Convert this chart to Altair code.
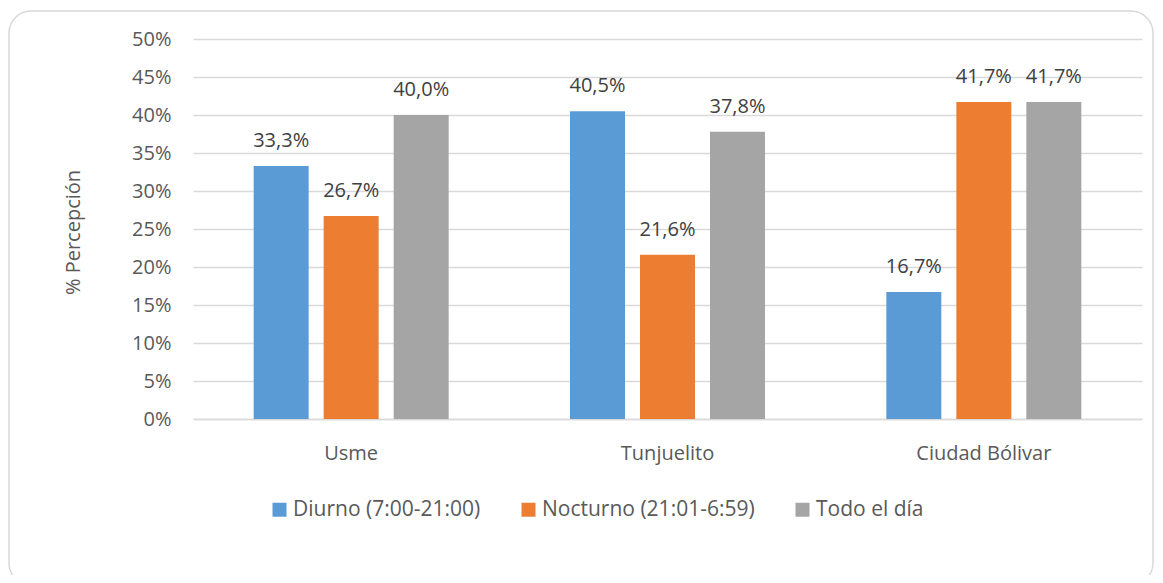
import altair as alt
import pandas as pd

categories = ["Usme", "Tunjuelito", "Ciudad Bólivar"]
series = ["Diurno (7:00-21:00)", "Nocturno (21:01-6:59)", "Todo el día"]
diurno = [33.3, 40.5, 16.7]
nocturno = [26.7, 21.6, 41.7]
todo = [40.0, 37.8, 41.7]
colors = ["#5B9BD5", "#ED7D31", "#A5A5A5"]
ticks = [0, 5, 10, 15, 20, 25, 30, 35, 40, 45, 50]

rows = []
for i, c in enumerate(categories):
    for s, vals in zip(series, [diurno, nocturno, todo]):
        rows.append({"cat": c, "serie": s, "v": vals[i]})
df = pd.DataFrame(rows)

FONT = "Open Sans"
FS = 20
pi = 1 - 195 / (949 / 3)

yaxis = alt.Axis(values=ticks, labelExpr="datum.value + '%'",
                 ticks=False, domain=False, gridColor="#d9d9d9", gridWidth=1.3,
                 labelOverlap=False, labelPadding=22, labelFontSize=FS, labelColor="#595959",
                 labelFont=FONT, titleFont=FONT, titleFontSize=FS, titleColor="#595959",
                 titleFontWeight="normal", titleX=-120, titleY=193, titleAngle=-90,
                 titleAlign="center", titleBaseline="middle")
yenc = alt.Y("v:Q", scale=alt.Scale(domain=[0, 50]), title="% Percepción", axis=yaxis)

base = alt.Chart(df).encode(
    x=alt.X("cat:N", sort=categories, title=None,
            scale=alt.Scale(paddingInner=pi, paddingOuter=pi / 2),
            axis=alt.Axis(labelAngle=0, ticks=False, domain=True, domainColor="#d9d9d9", domainWidth=1.3,
                          labelPadding=24, labelFontSize=FS, labelColor="#595959", labelFont=FONT)),
    xOffset=alt.XOffset("serie:N", sort=series, scale=alt.Scale(paddingInner=15 / 70, paddingOuter=0)),
    y=yenc,
)

bars = base.mark_bar().encode(
    color=alt.Color("serie:N", sort=series, scale=alt.Scale(domain=series, range=colors),
                    legend=alt.Legend(title=None, orient="none", direction="horizontal",
                                      legendX=76, legendY=460, padding=0, symbolType="square",
                                      symbolSize=196, symbolStrokeWidth=0, labelFontSize=21,
                                      labelFont=FONT, labelColor="#595959", labelOffset=3,
                                      labelLimit=400, columnPadding=37)),
)

text = base.mark_text(baseline="alphabetic", dy=-19, fontSize=FS, font=FONT, color="#404040").encode(
    text="lbl:N",
).transform_calculate(lbl="replace(format(datum.v, '.1f'), '.', ',') + '%'")

border = alt.Chart(pd.DataFrame({"a": [0]})).mark_rect(
    fill=None, stroke="#d9d9d9", strokeWidth=1.5, cornerRadius=22, clip=False
).encode(x=alt.value(-184), x2=alt.value(960), y=alt.value(-28), y2=alt.value(546))

chart = alt.layer(border, bars, text).properties(
    width=949, height=380, padding={"left": 185, "top": 31, "right": 13, "bottom": 156},
    autosize=alt.AutoSizeParams(type="none"), background="white",
).configure_view(stroke=None, strokeWidth=0)

chart.save("out.html", embed_options={"renderer": "svg", "actions": False})
